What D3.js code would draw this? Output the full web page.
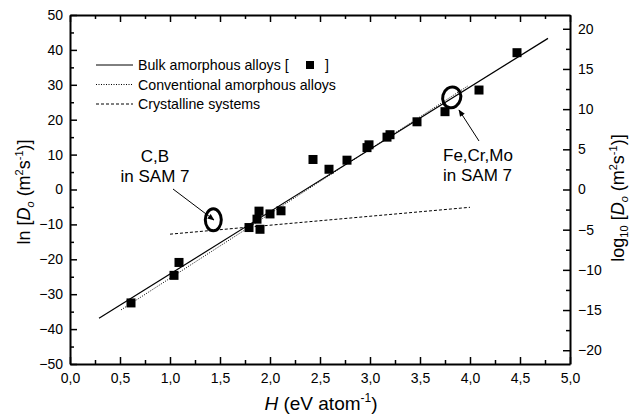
<!DOCTYPE html>
<html><head><meta charset="utf-8">
<script src="https://cdn.jsdelivr.net/npm/d3@7"></script>
<style>
body{margin:0;background:#fff;}
text{font-family:"Liberation Sans",Arial,sans-serif;fill:#000;}
</style></head>
<body>
<svg id="c" width="634" height="417"></svg>
<script>
// Data
const H = [0.61,1.04,1.09,1.79,1.90,1.87,1.89,2.00,2.11,2.43,2.59,2.77,2.97,2.99,3.17,3.20,3.47,3.75,4.09,4.47];
const lnD = [-32.5,-24.6,-20.9,-10.9,-11.4,-8.5,-6.2,-7.0,-6.1,8.6,5.8,8.4,12.0,12.8,15.0,15.7,19.4,22.3,28.5,39.2];
const bulkFit = [[0.29,-36.9],[4.78,43.3]];
const convFit = [[0.51,-34.5],[3.98,29.7]];
const crystFit = [[1.0,-12.8],[4.0,-5.1]];
const xTicks = ["0,0","0,5","1,0","1,5","2,0","2,5","3,0","3,5","4,0","4,5","5,0"];
const yTicks = [-50,-40,-30,-20,-10,0,10,20,30,40,50];
const yRTicks = [-20,-15,-10,-5,0,5,10,15,20];
const legendLabels = ["Bulk amorphous alloys [","Conventional amorphous alloys","Crystalline systems"];
const ellipses = [{x:1.433,y:-8.7,rx:8,ry:11,rot:0},{x:3.817,y:26.4,rx:9,ry:10.5,rot:15}];

const svg = d3.select("#c");
const L=70,R=570,T=15,B=364;
const x = d3.scaleLinear().domain([0,5]).range([L,R]);
const y = d3.scaleLinear().domain([-50,50]).range([B,T]);
const yR = d3.scaleLinear().domain([-50/Math.LN10,50/Math.LN10]).range([B,T]);

function style(g){g.selectAll("path.domain").attr("stroke","#000").attr("stroke-width",2);
 g.selectAll("line").attr("stroke","#000").attr("stroke-width",1.5);
 g.selectAll("text").style("font-size","14px").style("font-family","'Liberation Sans',Arial,sans-serif");}

// minor ticks
const xMinor = d3.range(0.25,5,0.5);
const yMinor = d3.range(-45,50,10);
const yRMinor = d3.range(-17.5,20,5);
svg.append("g").attr("transform",`translate(0,${B})`).call(d3.axisBottom(x).tickValues(xMinor).tickSize(-4).tickFormat("")).call(style).select(".domain").remove();
svg.append("g").attr("transform",`translate(0,${T})`).call(d3.axisTop(x).tickValues(xMinor).tickSize(-4).tickFormat("")).call(style).select(".domain").remove();
svg.append("g").attr("transform",`translate(${L},0)`).call(d3.axisLeft(y).tickValues(yMinor).tickSize(-4).tickFormat("")).call(style).select(".domain").remove();
svg.append("g").attr("transform",`translate(${R},0)`).call(d3.axisRight(yR).tickValues(yRMinor).tickSize(-4).tickFormat("")).call(style).select(".domain").remove();

// major axes
svg.append("g").attr("transform",`translate(0,${B})`).call(d3.axisBottom(x).tickValues(d3.range(0,5.01,0.5)).tickSize(-7).tickSizeOuter(0).tickPadding(9).tickFormat((d,i)=>xTicks[i])).call(style);
svg.append("g").attr("transform",`translate(0,${T})`).call(d3.axisTop(x).tickValues(d3.range(0,5.01,0.5)).tickSize(-7).tickSizeOuter(0).tickFormat("")).call(style);
svg.append("g").attr("transform",`translate(${L},0)`).call(d3.axisLeft(y).tickValues(yTicks).tickSize(-7).tickSizeOuter(0).tickPadding(7)).call(style);
svg.append("g").attr("transform",`translate(${R},0)`).call(d3.axisRight(yR).tickValues(yRTicks).tickSize(-7).tickSizeOuter(0).tickPadding(8)).call(style);

const line = d3.line().x(d=>x(d[0])).y(d=>y(d[1]));
svg.append("path").attr("d",line(bulkFit)).attr("stroke","#000").attr("stroke-width",1.2).attr("fill","none");
svg.append("path").attr("d",line(convFit)).attr("stroke","#000").attr("stroke-width",1).attr("stroke-dasharray","1,1.5").attr("fill","none");
svg.append("path").attr("d",line(crystFit)).attr("stroke","#000").attr("stroke-width",1).attr("stroke-dasharray","3,2").attr("fill","none");

// points
svg.append("g").selectAll("rect").data(H.map((h,i)=>[h,lnD[i]])).join("rect")
 .attr("x",d=>x(d[0])-4.5).attr("y",d=>y(d[1])-4.5).attr("width",9).attr("height",9).attr("fill","#000");

// ellipses
svg.append("g").selectAll("ellipse").data(ellipses).join("ellipse")
 .attr("cx",0).attr("cy",0).attr("rx",d=>d.rx).attr("ry",d=>d.ry)
 .attr("transform",d=>`translate(${x(d.x)},${y(d.y)}) rotate(${d.rot})`)
 .attr("fill","none").attr("stroke","#000").attr("stroke-width",3);

// annotations
const defs=svg.append("defs");
defs.append("marker").attr("id","ah").attr("viewBox","0 0 10 10").attr("refX",9).attr("refY",5)
 .attr("markerWidth",7).attr("markerHeight",7).attr("orient","auto")
 .append("path").attr("d","M0,1 L10,5 L0,9 Z").attr("fill","#000");
svg.append("line").attr("x1",173).attr("y1",189).attr("x2",214).attr("y2",220).attr("stroke","#000").attr("stroke-width",1).attr("marker-end","url(#ah)");
svg.append("line").attr("x1",479).attr("y1",141).attr("x2",459).attr("y2",110).attr("stroke","#000").attr("stroke-width",1).attr("marker-end","url(#ah)");

svg.append("text").attr("x",155).attr("y",162).attr("text-anchor","middle").style("font-size","17px").text("C,B");
svg.append("text").attr("x",155).attr("y",182).attr("text-anchor","middle").style("font-size","17px").text("in SAM 7");
svg.append("text").attr("x",443).attr("y",161).style("font-size","17px").text("Fe,Cr,Mo");
svg.append("text").attr("x",443).attr("y",181).style("font-size","17px").text("in SAM 7");

// legend
const lg = svg.append("g");
const dashes=[null,"1,1.5","3,2"];
legendLabels.forEach((t,i)=>{
 const yy=65+i*19.5;
 lg.append("line").attr("x1",96).attr("x2",133).attr("y1",yy).attr("y2",yy).attr("stroke","#000").attr("stroke-width",1).attr("stroke-dasharray",dashes[i]);
 lg.append("text").attr("x",138).attr("y",yy+5).style("font-size","14.2px").text(t);
});
lg.append("rect").attr("x",306).attr("y",61).attr("width",8).attr("height",8).attr("fill","#000");
lg.append("text").attr("x",325).attr("y",70).style("font-size","14.2px").text("]");

// axis titles
const xt=svg.append("text").attr("x",321).attr("y",410).attr("text-anchor","middle").style("font-size","19px");
xt.append("tspan").style("font-style","italic").text("H");
xt.append("tspan").text(" (eV atom");
xt.append("tspan").attr("dy",-8).style("font-size","12px").text("-1");
xt.append("tspan").attr("dy",8).text(")");

function dTitle(g,prefix,sub){
 g.append("tspan").text(prefix);
 if(sub){g.append("tspan").attr("dy",4).style("font-size","11px").text(sub);g.append("tspan").attr("dy",-4).text(" [");}
 else g.append("tspan").text(" [");
 g.append("tspan").style("font-style","italic").text("D");
 g.append("tspan").attr("dy",4).style("font-size","11px").style("font-style","italic").text("o");
 g.append("tspan").attr("dy",-4).text(" (m");
 g.append("tspan").attr("dy",-7).style("font-size","11px").text("2");
 g.append("tspan").attr("dy",7).text("s");
 g.append("tspan").attr("dy",-7).style("font-size","11px").text("-1");
 g.append("tspan").attr("dy",7).text(")]");
}
const lt=svg.append("text").attr("transform","translate(30,192) rotate(-90)").attr("text-anchor","middle").style("font-size","18px");
dTitle(lt,"ln",null);
const rt=svg.append("text").attr("transform","translate(624,198) rotate(-90)").attr("text-anchor","middle").style("font-size","18px");
dTitle(rt,"log","10");
</script>
</body></html>
